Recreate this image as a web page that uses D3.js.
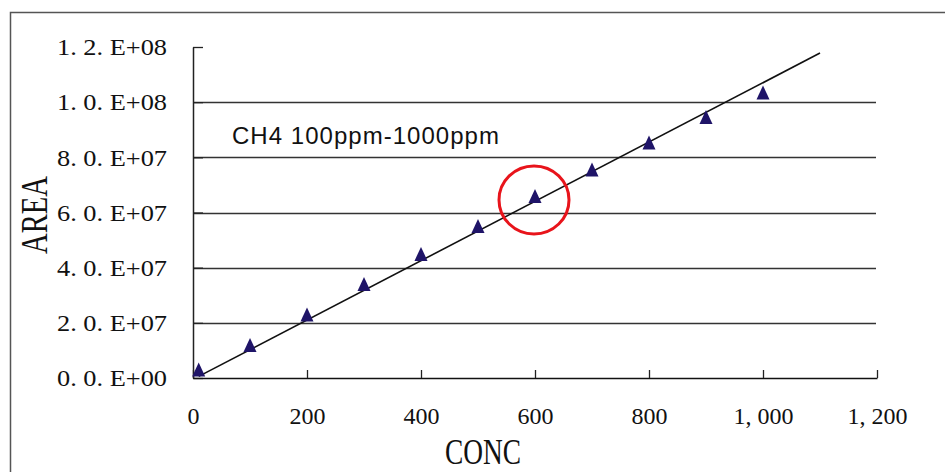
<!DOCTYPE html>
<html>
<head>
<meta charset="utf-8">
<script src="https://cdn.jsdelivr.net/npm/d3@7"></script>
<style>
  html, body { margin: 0; padding: 0; background: #fff; }
  svg { display: block; }
</style>
</head>
<body>
<svg id="chart" width="945" height="472"></svg>
<script>
// ---- data ----
const concValues = [10, 100, 200, 300, 400, 500, 600, 700, 800, 900, 1000];
const areaValues = [3.1e6, 1.20e7, 2.30e7, 3.41e7, 4.50e7, 5.51e7, 6.60e7, 7.56e7, 8.54e7, 9.46e7, 1.035e8];
const trendConc = [10, 1100];
const trendArea = [0.6e6, 1.178e8];
const xTickValues = [0, 200, 400, 600, 800, 1000, 1200];
const xTickLabels = ["0", "200", "400", "600", "800", "1, 000", "1, 200"];
const yTickValues = [0, 2e7, 4e7, 6e7, 8e7, 1e8, 1.2e8];
const yTickLabels = ["0. 0. E+00", "2. 0. E+07", "4. 0. E+07", "6. 0. E+07", "8. 0. E+07", "1. 0. E+08", "1. 2. E+08"];
const annotation = "CH4 100ppm-1000ppm";
const highlightConc = 600;
const highlightArea = 6.6e7;

(function () {
// ---- layout ----
const svg = d3.select("#chart");
const pLeft = 193, pRight = 877, pTop = 47, pBottom = 378;
const x = d3.scaleLinear().domain([0, 1200]).range([pLeft, pRight]);
const y = d3.scaleLinear().domain([0, 1.2e8]).range([pBottom, pTop]);
const serif = "'Liberation Serif', 'DejaVu Serif', serif";

// outer frame (top + left visible)
svg.append("path")
  .attr("d", "M10.5,472 L10.5,12.5 L945,12.5")
  .attr("fill", "none").attr("stroke", "#555").attr("stroke-width", 1.5);

// gridlines
svg.append("g").selectAll("line")
  .data(yTickValues.filter(v => v > 0 && v < 1.2e8))
  .join("line")
  .attr("x1", pLeft).attr("x2", pRight - 1)
  .attr("y1", d => Math.round(y(d)) + 0.5).attr("y2", d => Math.round(y(d)) + 0.5)
  .attr("stroke", "#333").attr("stroke-width", 1.3);

// y axis
const yAxis = d3.axisLeft(y).tickValues(yTickValues)
  .tickFormat((d, i) => yTickLabels[i])
  .tickSizeInner(-10).tickSizeOuter(0).tickPadding(26);
const gy = svg.append("g").attr("transform", `translate(${pLeft},0)`).call(yAxis);
gy.select(".domain").attr("stroke", "#222").attr("stroke-width", 1.5);
gy.selectAll(".tick line").attr("stroke", "#222").attr("stroke-width", 1.3);
gy.selectAll(".tick text")
  .attr("font-family", serif).attr("font-size", 24).attr("fill", "#111")
  .attr("textLength", 110).attr("lengthAdjust", "spacingAndGlyphs");

// x axis
const xAxis = d3.axisBottom(x).tickValues(xTickValues)
  .tickFormat((d, i) => xTickLabels[i])
  .tickSizeInner(-8).tickSizeOuter(0).tickPadding(29);
const gx = svg.append("g").attr("transform", `translate(0,${pBottom})`).call(xAxis);
gx.select(".domain").attr("stroke", "#111").attr("stroke-width", 1.5);
gx.selectAll(".tick line").attr("stroke", "#222").attr("stroke-width", 1.3);
gx.selectAll(".tick text")
  .attr("font-family", serif).attr("font-size", 24).attr("fill", "#111");

// axis titles
svg.append("text")
  .attr("transform", "translate(47,215) rotate(-90)")
  .attr("text-anchor", "middle")
  .attr("font-family", serif).attr("font-size", 38).attr("fill", "#111")
  .attr("textLength", 78).attr("lengthAdjust", "spacingAndGlyphs")
  .text("AREA");
svg.append("text")
  .attr("x", 483).attr("y", 464)
  .attr("text-anchor", "middle")
  .attr("font-family", serif).attr("font-size", 36).attr("fill", "#111")
  .attr("textLength", 76).attr("lengthAdjust", "spacingAndGlyphs")
  .text("CONC");

// trendline
svg.append("path")
  .datum(trendConc.map((c, i) => [c, trendArea[i]]))
  .attr("d", d3.line().x(d => x(d[0])).y(d => y(d[1])))
  .attr("fill", "none").attr("stroke", "#111").attr("stroke-width", 1.6);

// triangle markers
const tri = {
  draw(ctx, size) {
    const h = 7, w = 6.5;
    ctx.moveTo(0, -h);
    ctx.lineTo(w, h);
    ctx.lineTo(-w, h);
    ctx.closePath();
  }
};
svg.append("g").selectAll("path")
  .data(concValues.map((c, i) => [c, areaValues[i]]))
  .join("path")
  .attr("transform", d => `translate(${x(d[0])},${y(d[1])})`)
  .attr("d", d3.symbol().type(tri).size(100)())
  .attr("fill", "#1f1468");

// annotation
svg.append("text")
  .attr("x", 232).attr("y", 144)
  .attr("font-family", "'Liberation Sans', Arial, sans-serif")
  .attr("font-size", 24).attr("fill", "#111")
  .attr("textLength", 267).attr("lengthAdjust", "spacing")
  .text(annotation);

// red highlight circle
svg.append("ellipse")
  .attr("cx", x(highlightConc) - 1).attr("cy", y(highlightArea) + 4)
  .attr("rx", 35).attr("ry", 34)
  .attr("fill", "none").attr("stroke", "#e8141b").attr("stroke-width", 3);
})();
</script>
</body>
</html>
